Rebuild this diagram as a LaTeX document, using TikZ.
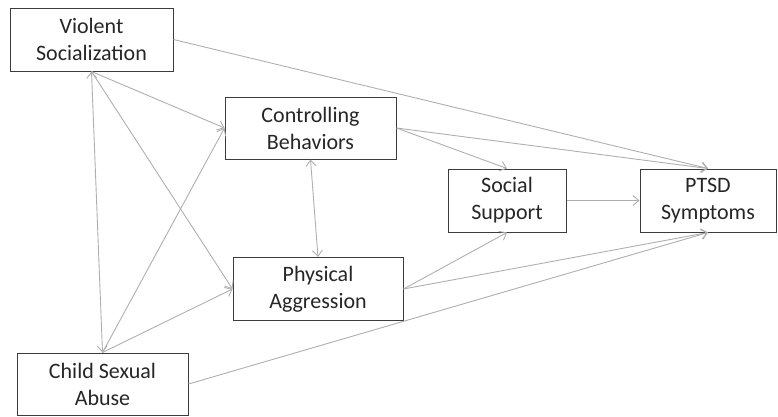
\documentclass[tikz,border=0pt]{standalone}
\usepackage{fontspec}
\setmainfont{Carlito}
\usetikzlibrary{arrows.meta}
\definecolor{boxline}{RGB}{60,60,60}
\definecolor{pathline}{RGB}{175,175,175}

\begin{document}
\begin{tikzpicture}[x=1pt, y=-1pt,
    var/.style={draw=boxline, line width=1pt, align=center, inner sep=0pt,
        font=\fontsize{22}{27}\selectfont, text=black!85},
    path/.style={draw=pathline, line width=0.9pt, -{Straight Barb[length=6pt,width=10pt]}},
    corr/.style={path, {Straight Barb[length=6pt,width=10pt]}-{Straight Barb[length=6pt,width=10pt]}}]
                \useasboundingbox (0,0) rectangle (778,416);
                \node[var, minimum width=163pt, minimum height=63pt] (vs) at (91.5,39.5) {Violent\\Socialization};
                \node[var, minimum width=171pt, minimum height=62pt] (cb) at (310.5,128) {Controlling\\Behaviors};
                \node[var, minimum width=170pt, minimum height=63pt] (pa) at (318,289) {Physical\\Aggression};
                \node[var, minimum width=118pt, minimum height=63pt] (ss) at (507,200.5) {Social\\Support};
                \node[var, minimum width=136pt, minimum height=63pt] (ptsd) at (708,200.5) {PTSD\\Symptoms};
                \node[var, minimum width=171pt, minimum height=62pt] (csa) at (102.5,384) {Child Sexual\\Abuse};
                % paths from the background variables
                \draw (vs.east) edge[path] (ptsd.north);
                \draw (vs.south) edge[path] (cb.west);
                \draw (vs.south) edge[path] (pa.west);
                \draw (vs.south) edge[corr] (csa.north);
                \draw (csa.north) edge[path] (cb.west);
                \draw (csa.north) edge[path] (pa.west);
                \draw (csa.east) edge[path] (ptsd.south);
                % abuse and support
                \draw (cb.south) edge[corr] (pa.north);
                \draw (cb.east) edge[path] (ss.north);
                \draw (cb.east) edge[path] (ptsd.north);
                \draw (pa.east) edge[path] (ss.south);
                \draw (pa.east) edge[path] (ptsd.south);
                \draw (ss.east) edge[path] (ptsd.west);
            \end{tikzpicture}
\end{document}
